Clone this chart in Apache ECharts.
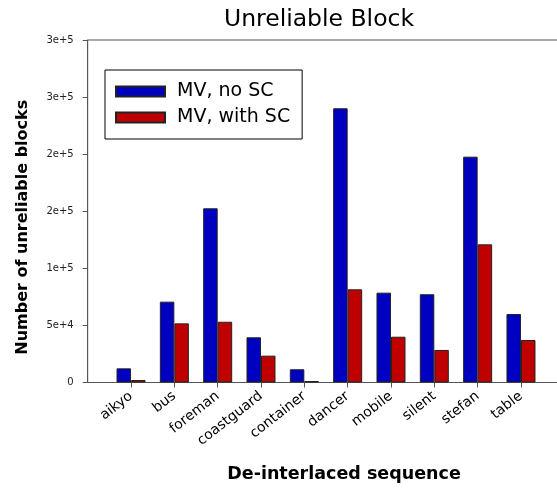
<!DOCTYPE html>
<html>
<head>
<meta charset="utf-8">
<script src="https://cdn.jsdelivr.net/npm/echarts@6/dist/echarts.min.js"></script>
<style>
  html, body { margin: 0; padding: 0; background: #ffffff; }
  #chart { width: 557px; height: 489px; }
</style>
</head>
<body>
<div id="chart"></div>
<script>
const categories = ['aikyo', 'bus', 'foreman', 'coastguard', 'container', 'dancer', 'mobile', 'silent', 'stefan', 'table'];
const mvNoSC   = [12400, 70800, 152600, 39600, 11600, 240200, 78700, 77300, 197800, 60000];
const mvWithSC = [2200, 51800, 53200, 23500, 1300, 81600, 40100, 28500, 121000, 37200];
const yTickLabels = ['0', '5e+4', '1e+5', '2e+5', '2e+5', '3e+5', '3e+5'];
const yTickValues = [0, 50000, 100000, 150000, 200000, 250000, 300000];

// The x axis spans one extra empty slot at each end (categories sit at 1..10 of 0..11)
const paddedCats = [''].concat(categories, ['']);
const pad = arr => [null].concat(arr, [null]);

const FONT = 'DejaVu Sans';
const chart = echarts.init(document.getElementById('chart'), null, { renderer: 'canvas' });

chart.setOption({
  animation: false,
  backgroundColor: '#ffffff',
  title: {
    text: 'Unreliable Block',
    left: 314,
    top: 3,
    textAlign: 'center',
    textStyle: { fontFamily: FONT, fontSize: 23.5, fontWeight: 'normal', color: '#000' }
  },
  legend: {
    orient: 'vertical',
    left: 105,
    top: 70,
    padding: [12, 12, 12, 10],
    itemWidth: 49,
    itemHeight: 10,
    itemGap: 7,
    icon: 'rect',
    borderColor: '#000',
    borderWidth: 1,
    backgroundColor: '#fff',
    textStyle: { fontFamily: FONT, fontSize: 19, color: '#000', padding: [0, 0, 0, 7] },
    data: ['MV, no SC', 'MV, with SC']
  },
  grid: {
    left: 87.7,
    top: 40,
    width: 476.6,
    height: 342.5,
    outerBoundsMode: 'none',
    containLabel: false,
    show: true,
    borderColor: '#555',
    borderWidth: 1,
    backgroundColor: 'transparent'
  },
  xAxis: {
    type: 'category',
    data: paddedCats,
    boundaryGap: false,
    name: 'De-interlaced sequence',
    nameLocation: 'middle',
    nameGap: 83,
    nameTextStyle: { fontFamily: FONT, fontSize: 17.5, fontWeight: 'bold', color: '#000', padding: [0, 0, 0, 36] },
    axisLine: { lineStyle: { color: '#555', width: 1 } },
    axisTick: {
      show: true,
      length: 5,
      inside: false,
      interval: (idx) => idx > 0 && idx < paddedCats.length - 1,
      lineStyle: { color: '#555' }
    },
    axisLabel: {
      interval: 0,
      rotate: 38,
      margin: 12,
      fontFamily: FONT,
      fontSize: 14,
      color: '#000',
      hideOverlap: false
    },
    splitLine: { show: false }
  },
  yAxis: {
    type: 'value',
    min: 0,
    max: 300000,
    interval: 50000,
    name: 'Number of unreliable blocks',
    nameLocation: 'middle',
    nameRotate: 90,
    nameGap: 57,
    nameTextStyle: { fontFamily: FONT, fontSize: 16, fontWeight: 'bold', color: '#000', padding: [0, 32, 0, 0] },
    axisLine: { show: true, lineStyle: { color: '#555', width: 1 } },
    axisTick: { show: true, length: 5, inside: false, lineStyle: { color: '#555' } },
    axisLabel: {
      margin: 14,
      fontFamily: FONT,
      fontSize: 10,
      color: '#222',
      formatter: (v) => {
        const i = yTickValues.indexOf(v);
        return i >= 0 ? yTickLabels[i] : '';
      }
    },
    splitLine: { show: false }
  },
  series: [
    {
      name: 'MV, no SC',
      type: 'bar',
      data: pad(mvNoSC),
      barWidth: 14.5,
      barGap: '0%',
      itemStyle: { color: '#0000c0', borderColor: '#222', borderWidth: 1 }
    },
    {
      name: 'MV, with SC',
      type: 'bar',
      data: pad(mvWithSC),
      barWidth: 14.5,
      barGap: '0%',
      itemStyle: { color: '#c00000', borderColor: '#222', borderWidth: 1 }
    }
  ]
});
</script>
</body>
</html>
